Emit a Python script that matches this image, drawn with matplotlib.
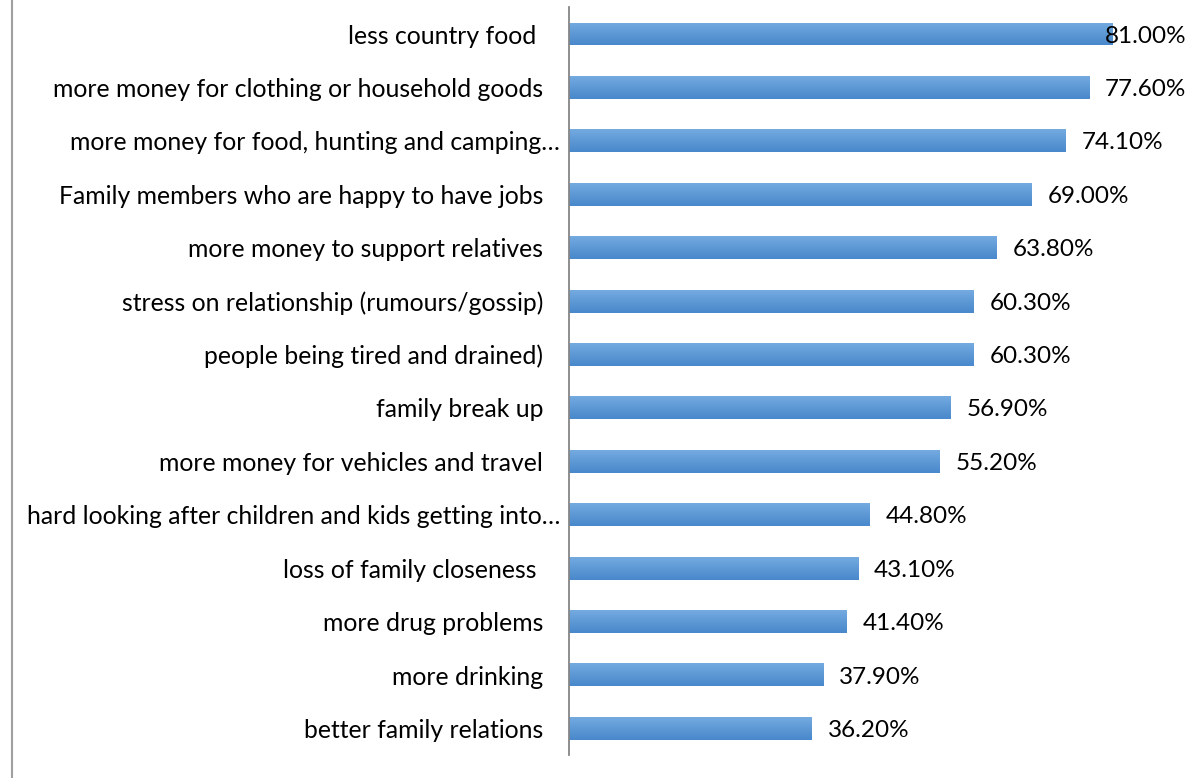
import matplotlib
matplotlib.use("Agg")
import matplotlib.pyplot as plt
import numpy as np
from matplotlib.colors import LinearSegmentedColormap

categories = [
    "less country food ",
    "more money for clothing or household goods",
    "more money for food, hunting and camping\u2026",
    "Family members who are happy to have jobs",
    "more money to support relatives",
    "stress on relationship (rumours/gossip)",
    "people being tired and drained)",
    "family break up",
    "more money for vehicles and travel",
    "hard looking after children and kids getting into\u2026",
    "loss of family closeness ",
    "more drug problems",
    "more drinking",
    "better family relations",
]
values = [81.0, 77.6, 74.1, 69.0, 63.8, 60.3, 60.3, 56.9, 55.2, 44.8, 43.1, 41.4, 37.9, 36.2]
value_labels = ["81.00%", "77.60%", "74.10%", "69.00%", "63.80%", "60.30%", "60.30%",
                "56.90%", "55.20%", "44.80%", "43.10%", "41.40%", "37.90%", "36.20%"]

W, H = 1198, 778
fig = plt.figure(figsize=(W / 100, H / 100), dpi=100)
ax = fig.add_axes([569 / W, 1 - 755 / H, (1186 - 569) / W, (755 - 7.3) / H])

FONT = "Lato"
FS = 17.5
FS_CAT = 17.8
XMAX = 92.0
n = len(categories)
ypos = np.arange(n)
bh = 0.43

cmap = LinearSegmentedColormap.from_list("g", ["#74aae0", "#4888cb"])
grad = np.linspace(0, 1, 64).reshape(-1, 1)

bars = ax.barh(ypos, values, height=bh, color="none", edgecolor="none")
for b, y, v in zip(bars, ypos, values):
    im = ax.imshow(grad, cmap=cmap, extent=(0, v, y + bh / 2, y - bh / 2),
                   aspect="auto", origin="upper", interpolation="bilinear", zorder=2)
    im.set_clip_path(b)

ax.set_xlim(0, XMAX)
ax.set_ylim(n - 0.5, -0.5)
ax.set_aspect("auto")

for s in ["top", "right", "bottom"]:
    ax.spines[s].set_visible(False)
ax.spines["left"].set_color("#868686")
ax.spines["left"].set_linewidth(1.3)
ax.set_xticks([])
ax.set_yticks([])

trans = matplotlib.transforms.blended_transform_factory(fig.transFigure, ax.transData)
for y, c in zip(ypos, categories):
    truncated = c.endswith("\u2026")
    xpix = 560 if truncated else 543
    ax.text(xpix / W, y + 0.04, c, transform=trans,
            ha="right", va="center", fontsize=FS_CAT, family=FONT, color="#000000")

fig.canvas.draw()
renderer = fig.canvas.get_renderer()
px_per_unit = ax.transData.transform((1, 0))[0] - ax.transData.transform((0, 0))[0]
gap = 16 / px_per_unit
limit_px = 1186
for y, v, lab in zip(ypos, values, value_labels):
    t = ax.text(v + gap, y + 0.04, lab, ha="left", va="center", fontsize=FS, family=FONT,
                color="#000000", zorder=3)
    bb = t.get_window_extent(renderer)
    if bb.x1 > limit_px:
        t.set_ha("right")
        t.set_x(ax.transData.inverted().transform((limit_px, 0))[0])

fig.add_artist(plt.Line2D([11.5 / W, 11.5 / W], [0, 1], transform=fig.transFigure,
                          color="#a0a0a0", linewidth=1.5))

fig.savefig("out.png", dpi=100)
